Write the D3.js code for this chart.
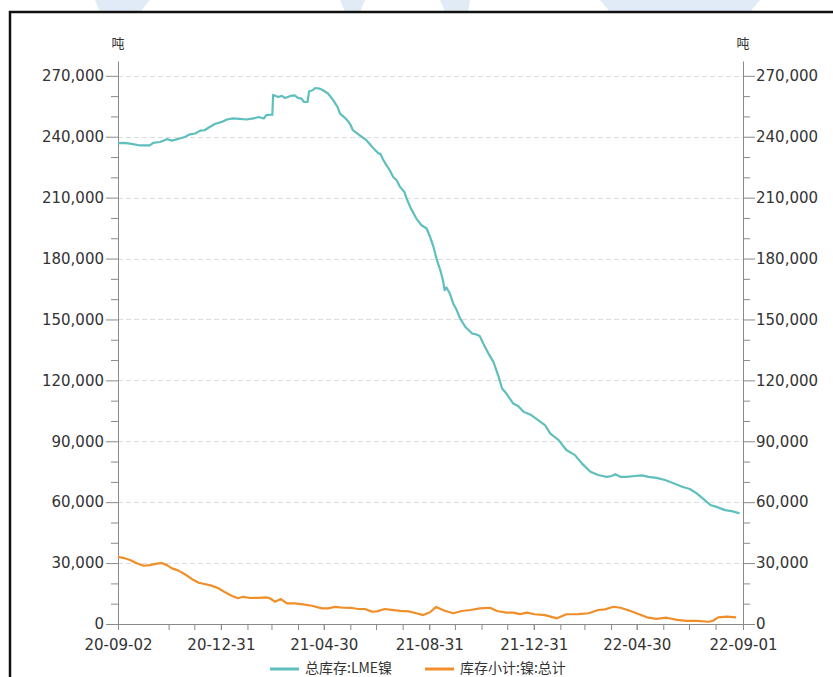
<!DOCTYPE html>
<html>
<head>
<meta charset="utf-8">
<script src="https://cdn.jsdelivr.net/npm/d3@7"></script>
<style>
  html, body { margin: 0; padding: 0; background: #fff; overflow: hidden; }
  svg { display: block; }
</style>
</head>
<body>
<svg id="chart" width="833" height="677"></svg>
<script>
// ---------- data ----------
const seriesNames = ["总库存:LME镍", "库存小计:镍:总计"];
const unitLabel = "吨";

const lmeDates = ["2020-09-02","2020-09-08","2020-09-16","2020-09-28","2020-10-09","2020-10-13","2020-10-21","2020-10-29","2020-11-04","2020-11-13","2020-11-19","2020-11-25","2020-12-01","2020-12-07","2020-12-12","2020-12-18","2020-12-24","2021-01-01","2021-01-07","2021-01-14","2021-01-22","2021-01-30","2021-02-07","2021-02-13","2021-02-19","2021-02-22","2021-02-28","2021-03-01","2021-03-02","2021-03-08","2021-03-12","2021-03-16","2021-03-22","2021-03-27","2021-03-31","2021-04-04","2021-04-07","2021-04-11","2021-04-13","2021-04-17","2021-04-20","2021-04-25","2021-04-29","2021-05-05","2021-05-11","2021-05-16","2021-05-19","2021-05-25","2021-05-29","2021-05-31","2021-06-03","2021-06-11","2021-06-18","2021-06-23","2021-06-29","2021-07-03","2021-07-05","2021-07-08","2021-07-12","2021-07-16","2021-07-20","2021-07-24","2021-07-28","2021-08-02","2021-08-05","2021-08-09","2021-08-16","2021-08-22","2021-08-28","2021-09-01","2021-09-05","2021-09-09","2021-09-13","2021-09-16","2021-09-18","2021-09-20","2021-09-24","2021-09-28","2021-10-02","2021-10-06","2021-10-12","2021-10-20","2021-10-25","2021-10-29","2021-11-02","2021-11-08","2021-11-14","2021-11-20","2021-11-24","2021-11-29","2021-12-07","2021-12-13","2021-12-19","2021-12-28","2022-01-05","2022-01-13","2022-01-19","2022-01-29","2022-02-07","2022-02-17","2022-02-25","2022-03-07","2022-03-16","2022-03-26","2022-04-01","2022-04-05","2022-04-11","2022-04-18","2022-04-28","2022-05-06","2022-05-14","2022-05-23","2022-06-02","2022-06-12","2022-06-22","2022-07-01","2022-07-09","2022-07-17","2022-07-25","2022-08-01","2022-08-11","2022-08-19","2022-08-28"];
const lmeValues = [236800,237000,236600,235700,235700,237000,237400,238800,238100,239100,239900,241200,241600,243000,243200,244800,246300,247300,248500,249000,248800,248500,249000,249700,249000,250600,250900,250800,260600,259600,260100,259100,260100,260400,259100,258800,257100,257100,262400,262900,264000,263700,262900,261300,258000,254700,251400,249200,247300,246000,243200,240700,238600,236200,233400,231700,231700,228900,226000,223500,220200,218600,215300,212800,209200,205200,199700,196400,194800,190700,185700,179200,174200,169300,164400,165800,162800,157900,154600,150500,146400,143100,142600,141800,138200,133300,129000,121700,116000,113500,108600,107300,104500,102900,100400,98000,93900,90600,85700,83200,79100,75000,73400,72500,72900,73800,72500,72500,72900,73200,72500,72000,70900,69300,67600,66500,64300,61500,58600,57700,56100,55600,54500];

const subDates = ["2020-09-02","2020-09-08","2020-09-16","2020-09-24","2020-10-02","2020-10-09","2020-10-17","2020-10-23","2020-10-29","2020-11-04","2020-11-11","2020-11-19","2020-11-27","2020-12-05","2020-12-12","2020-12-20","2020-12-28","2021-01-05","2021-01-13","2021-01-20","2021-01-26","2021-02-03","2021-02-13","2021-02-22","2021-02-26","2021-03-04","2021-03-11","2021-03-18","2021-03-27","2021-04-06","2021-04-16","2021-04-28","2021-05-05","2021-05-13","2021-05-23","2021-06-02","2021-06-09","2021-06-17","2021-06-25","2021-07-01","2021-07-10","2021-07-18","2021-07-28","2021-08-07","2021-08-16","2021-08-24","2021-09-01","2021-09-08","2021-09-18","2021-09-28","2021-10-08","2021-10-18","2021-10-29","2021-11-10","2021-11-18","2021-11-29","2021-12-07","2021-12-15","2021-12-23","2022-01-01","2022-01-13","2022-01-27","2022-02-07","2022-02-21","2022-03-05","2022-03-16","2022-03-24","2022-04-03","2022-04-11","2022-04-22","2022-05-02","2022-05-12","2022-05-23","2022-06-04","2022-06-16","2022-06-27","2022-07-09","2022-07-23","2022-07-28","2022-08-03","2022-08-13","2022-08-24"];
const subValues = [33100,32600,31500,29900,28700,29000,29700,30000,29000,27400,26400,24500,22200,20300,19700,18900,17600,15600,13800,12700,13400,12800,12900,13100,12700,11000,12300,10200,10200,9700,9000,7700,7700,8400,8000,7900,7400,7400,6100,6200,7400,7000,6500,6200,5300,4400,5800,8400,6500,5300,6400,6900,7700,8000,6400,5600,5600,4900,5600,4800,4400,2800,4800,4900,5300,6900,7200,8500,8000,6500,4900,3300,2500,3100,2000,1500,1500,1100,1600,3300,3600,3300];

const xLabelTicks = ["2020-09-02","2020-12-31","2021-04-30","2021-08-31","2021-12-31","2022-04-30","2022-09-01"];
const yMajorTicks = [0,30000,60000,90000,120000,150000,180000,210000,240000,270000];
const yMinorStep = 10000;

// ---------- layout ----------
const parse = d3.timeParse("%Y-%m-%d");
const fmtX = d3.timeFormat("%y-%m-%d");
const fmtY = d3.format(",");
const colors = ["#5fbfbd", "#f08f2a"];
const axisColor = "#8a8a8a";
const textColor = "#333";

const plotL = 118, plotR = 743, plotT = 61, plotB = 624;

const svg = d3.select("#chart");

// faint watermark shapes above the frame
const wm = svg.append("g").attr("fill", "#dde9f6").attr("opacity", 0.9);
[[95,0,150,0,140,12,100,12],[340,0,365,0,360,12,345,12],[440,0,470,0,468,12,445,12],[600,0,760,0,750,12,610,12]].forEach(p => {
  wm.append("polygon").attr("points", [[p[0],p[1]],[p[2],p[3]],[p[4],p[5]],[p[6],p[7]]].map(q=>q.join(",")).join(" "));
});

// frame
svg.append("rect").attr("x", 10).attr("y", 12).attr("width", 900).attr("height", 700)
  .attr("fill", "#fff").attr("stroke", "#111").attr("stroke-width", 2.5);

const x = d3.scaleTime()
  .domain([parse(xLabelTicks[0]), parse(xLabelTicks[xLabelTicks.length - 1])])
  .range([plotL, plotR]);
const y = d3.scaleLinear().domain([0, 277300]).range([plotB, plotT]);

// grid
const grid = svg.append("g");
yMajorTicks.filter(v => v > 0).forEach(v => {
  grid.append("line").attr("x1", plotL).attr("x2", plotR)
    .attr("y1", Math.round(y(v)) + 0.5).attr("y2", Math.round(y(v)) + 0.5)
    .attr("stroke", "#dcdcdc").attr("stroke-dasharray", "5,3").attr("stroke-width", 1);
});

// y axes (minor ticks)
const minorVals = d3.range(0, 277300, yMinorStep).filter(v => v % 30000 !== 0);
function styleAxis(g) {
  g.selectAll("path, line").attr("stroke", axisColor);
  g.selectAll("text").attr("fill", textColor).attr("font-family", "DejaVu Sans, sans-serif").attr("font-size", 15);
}
const yLeftMinor = svg.append("g").attr("transform", `translate(${plotL},0)`)
  .call(d3.axisLeft(y).tickValues(minorVals).tickSize(7).tickFormat("").tickSizeOuter(0));
yLeftMinor.select(".domain").remove();
styleAxis(yLeftMinor);
const yLeft = svg.append("g").attr("transform", `translate(${plotL},0)`)
  .call(d3.axisLeft(y).tickValues(yMajorTicks).tickSize(12).tickPadding(2).tickFormat(fmtY).tickSizeOuter(0));
styleAxis(yLeft);

const yRightMinor = svg.append("g").attr("transform", `translate(${plotR},0)`)
  .call(d3.axisRight(y).tickValues(minorVals).tickSize(7).tickFormat("").tickSizeOuter(0));
yRightMinor.select(".domain").remove();
styleAxis(yRightMinor);
const yRight = svg.append("g").attr("transform", `translate(${plotR},0)`)
  .call(d3.axisRight(y).tickValues(yMajorTicks).tickSize(12).tickPadding(1).tickFormat(fmtY).tickSizeOuter(0));
styleAxis(yRight);

// x axis: month-end minor ticks + labels
const monthEnds = d3.timeMonth.range(d3.timeMonth.offset(x.domain()[0], 1), x.domain()[1])
  .map(d => d3.timeDay.offset(d, -1)).filter(d => d > x.domain()[0]);
const xMinor = svg.append("g").attr("transform", `translate(0,${plotB})`)
  .call(d3.axisBottom(x).tickValues(monthEnds).tickSize(6).tickFormat("").tickSizeOuter(0));
xMinor.select(".domain").remove();
styleAxis(xMinor);
const xAxis = svg.append("g").attr("transform", `translate(0,${plotB})`)
  .call(d3.axisBottom(x).tickValues(xLabelTicks.map(parse)).tickSize(6).tickPadding(9).tickFormat(fmtX).tickSizeOuter(0));
styleAxis(xAxis);

// unit labels
[plotL, plotR].forEach(px => {
  svg.append("text").attr("x", px).attr("y", 48).attr("text-anchor", "middle")
    .attr("font-family", "Noto Sans CJK SC, sans-serif").attr("font-size", 13).attr("fill", textColor)
    .text(unitLabel);
});

// lines
const line = d3.line().x(d => x(d[0])).y(d => y(d[1]));
const lmeData = lmeDates.map((d, i) => [parse(d), lmeValues[i]]);
const subData = subDates.map((d, i) => [parse(d), subValues[i]]);
svg.append("path").datum(subData).attr("d", line).attr("fill", "none")
  .attr("stroke", colors[1]).attr("stroke-width", 2.2).attr("stroke-linejoin", "round");
svg.append("path").datum(lmeData).attr("d", line).attr("fill", "none")
  .attr("stroke", colors[0]).attr("stroke-width", 2.2).attr("stroke-linejoin", "round");

// legend
const legendItems = [{x: 270, label: seriesNames[0], c: colors[0]}, {x: 425, label: seriesNames[1], c: colors[1]}];
legendItems.forEach(it => {
  svg.append("line").attr("x1", it.x).attr("x2", it.x + 29).attr("y1", 669).attr("y2", 669)
    .attr("stroke", it.c).attr("stroke-width", 3);
  svg.append("text").attr("x", it.x + 35).attr("y", 673)
    .attr("font-family", "Noto Sans CJK SC, sans-serif").attr("font-size", 14).attr("fill", textColor)
    .text(it.label);
});
</script>
</body>
</html>
